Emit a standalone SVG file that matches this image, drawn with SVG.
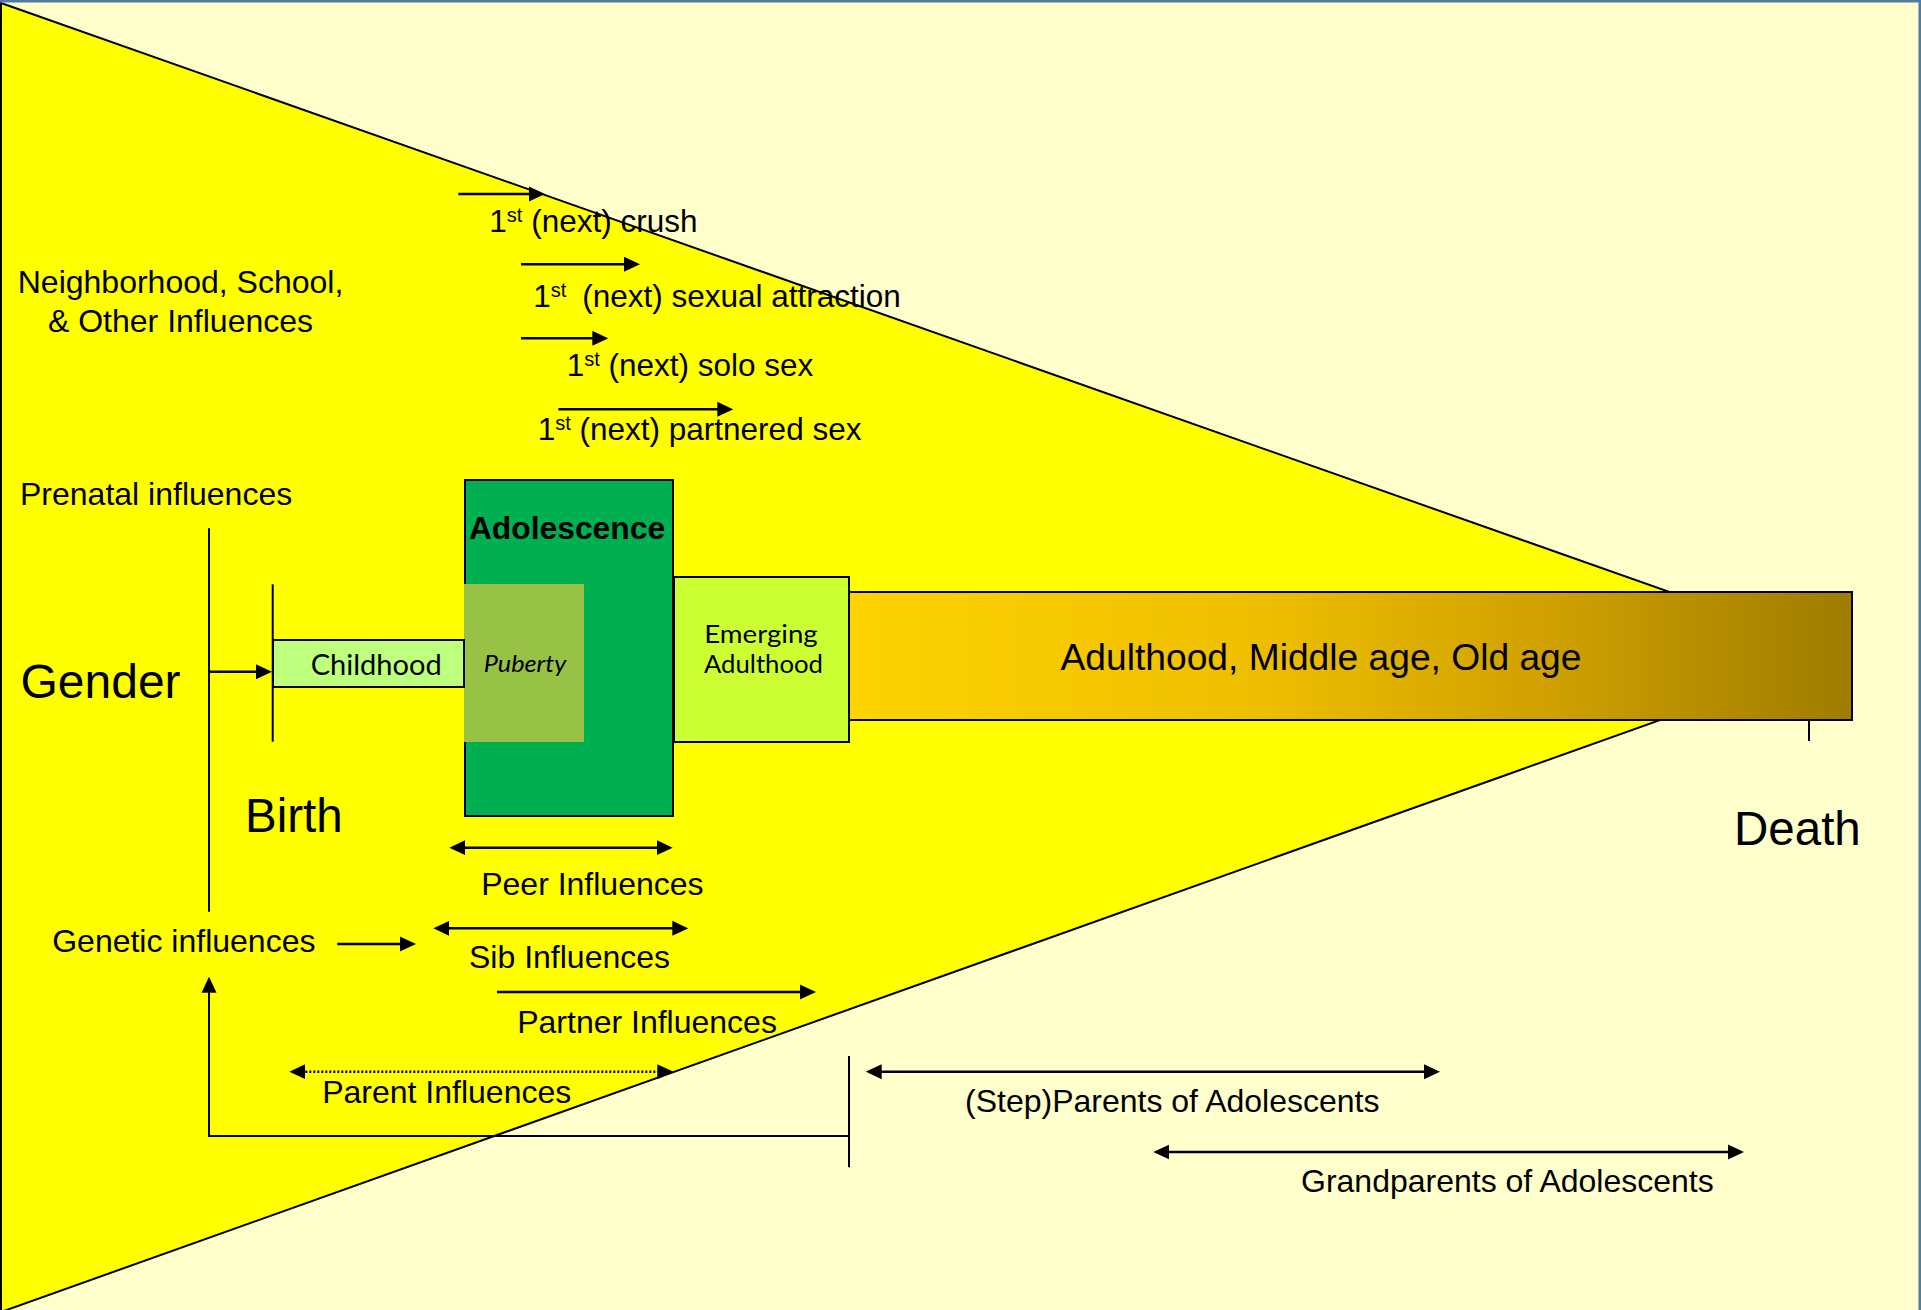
<svg xmlns="http://www.w3.org/2000/svg" width="1921" height="1310" viewBox="0 0 1921 1310">
  <style>
    .t { font-family: "Liberation Sans", Arial, sans-serif; font-size: 32px; fill: #000; }
    .s { font-size: 31.5px; }
    .big { font-size: 47.5px; }
    .cal { font-family: Lato, "Noto Sans", sans-serif; fill: #000; }
    .ln { stroke: #000; stroke-width: 2; fill: none; }
    .ar { stroke: #000; stroke-width: 2.5; fill: none; }
  </style>
  <defs>
    <marker id="ah" viewBox="0 0 16 16" markerWidth="16" markerHeight="16" refX="8" refY="8" orient="auto-start-reverse" markerUnits="userSpaceOnUse">
      <path d="M0,0.5 L16,8 L0,15.5 z" fill="#000"/>
    </marker>
    <linearGradient id="adultGrad" x1="0" y1="0" x2="1" y2="0">
      <stop offset="0" stop-color="#FDD300"/>
      <stop offset="0.4" stop-color="#EEBF00"/>
      <stop offset="0.7" stop-color="#CFA000"/>
      <stop offset="1" stop-color="#9E7C00"/>
    </linearGradient>
  </defs>

  <g id="background">
    <rect x="0" y="0" width="1921" height="1310" fill="#FFFFCC"/>
    <polygon points="1,3 1845,654 1,1312" fill="#FFFF00" stroke="#000" stroke-width="2"/>
    <rect x="0" y="0" width="1921" height="2.5" fill="#4F7AA6"/>
    <rect x="1918.5" y="0" width="2.5" height="1310" fill="#4F7AA6"/>
  </g>

  <g id="node-adulthood">
    <rect x="849" y="592" width="1003" height="128" fill="url(#adultGrad)" stroke="#000" stroke-width="2"/>
    <text class="t" x="1321" y="670" text-anchor="middle" style="font-size:37.2px">Adulthood, Middle age, Old age</text>
  </g>

  <g id="node-emerging">
    <rect x="674" y="577" width="175" height="165" fill="#CCFF33" stroke="#000" stroke-width="2"/>
    <text class="cal" x="761" y="642.7" text-anchor="middle" font-size="25" textLength="113.5" lengthAdjust="spacingAndGlyphs">Emerging</text>
    <text class="cal" x="763.5" y="673" text-anchor="middle" font-size="25" textLength="119" lengthAdjust="spacingAndGlyphs">Adulthood</text>
  </g>

  <g id="node-adolescence">
    <rect x="465" y="480" width="208" height="336" fill="#00B050" stroke="#000" stroke-width="2"/>
    <text class="t" x="567" y="539.3" text-anchor="middle" font-weight="bold" style="font-size:31.8px">Adolescence</text>
  </g>

  <g id="node-puberty">
    <rect x="464" y="584" width="120" height="158" fill="#98C246"/>
    <text class="cal" x="525" y="672" text-anchor="middle" font-size="23" font-style="italic" textLength="82.6" lengthAdjust="spacingAndGlyphs">Puberty</text>
  </g>

  <g id="node-childhood">
    <rect x="273" y="640" width="191" height="47" fill="#BEFF7E" stroke="#000" stroke-width="2"/>
    <text class="cal" x="376.2" y="675" text-anchor="middle" font-size="28.5" textLength="131" lengthAdjust="spacingAndGlyphs">Childhood</text>
  </g>

  <g id="connectors">
    <path class="ln" d="M209,528.3 V911.7"/>
    <path class="ln" d="M272.7,584.3 V741.7"/>
    <path class="ln" d="M849,1056 V1167.3"/>
    <path class="ln" d="M1809,720 V741"/>
    <path class="ln" d="M849,1136 H209 V984.7" marker-end="url(#ah)"/>
    <path class="ar" d="M209,671.7 H264" marker-end="url(#ah)"/>
    <path class="ar" d="M458.3,194 H537" marker-end="url(#ah)"/>
    <path class="ar" d="M521,264.3 H632" marker-end="url(#ah)"/>
    <path class="ar" d="M521,338.3 H600.3" marker-end="url(#ah)"/>
    <path class="ar" d="M558.3,409.3 H725.3" marker-end="url(#ah)"/>
    <path class="ar" d="M457.3,847.7 H664.7" marker-start="url(#ah)" marker-end="url(#ah)"/>
    <path class="ar" d="M441.3,928.3 H680.3" marker-start="url(#ah)" marker-end="url(#ah)"/>
    <path class="ar" d="M337.3,944 H408" marker-end="url(#ah)"/>
    <path class="ar" d="M497,992 H808" marker-end="url(#ah)"/>
    <path class="ar" d="M297.3,1071.7 H665.3" stroke-dasharray="2 2" marker-start="url(#ah)" marker-end="url(#ah)"/>
    <path class="ar" d="M873.7,1071.7 H1432" marker-start="url(#ah)" marker-end="url(#ah)"/>
    <path class="ar" d="M1161.3,1152 H1736" marker-start="url(#ah)" marker-end="url(#ah)"/>
  </g>

  <g id="labels">
    <text class="t" x="180.5" y="293.3" text-anchor="middle">Neighborhood, School,</text>
    <text class="t" x="180.5" y="331.7" text-anchor="middle">&amp; Other Influences</text>
    <text class="t s" x="489.3" y="231.7">1<tspan font-size="20" dy="-10">st</tspan><tspan dy="10"> (next) crush</tspan></text>
    <text class="t s" x="533.3" y="307.3">1<tspan font-size="20" dy="-10">st</tspan><tspan dy="10" dx="7"> (next) sexual attraction</tspan></text>
    <text class="t s" x="566.7" y="376">1<tspan font-size="20" dy="-10">st</tspan><tspan dy="10"> (next) solo sex</tspan></text>
    <text class="t s" x="537.7" y="440">1<tspan font-size="20" dy="-10">st</tspan><tspan dy="10"> (next) partnered sex</tspan></text>
    <text class="t" x="20" y="505">Prenatal influences</text>
    <text class="t big" x="20.5" y="698.3" style="font-size:48px">Gender</text>
    <text class="t big" x="245" y="831.7">Birth</text>
    <text class="t big" x="1734" y="844.7">Death</text>
    <text class="t" x="481.2" y="895">Peer Influences</text>
    <text class="t" x="52.2" y="951.7">Genetic influences</text>
    <text class="t" x="469" y="968.3">Sib Influences</text>
    <text class="t" x="517.2" y="1032.7">Partner Influences</text>
    <text class="t" x="322.2" y="1102.7">Parent Influences</text>
    <text class="t" x="965" y="1111.7">(Step)Parents of Adolescents</text>
    <text class="t" x="1301" y="1192">Grandparents of Adolescents</text>
  </g>
</svg>
